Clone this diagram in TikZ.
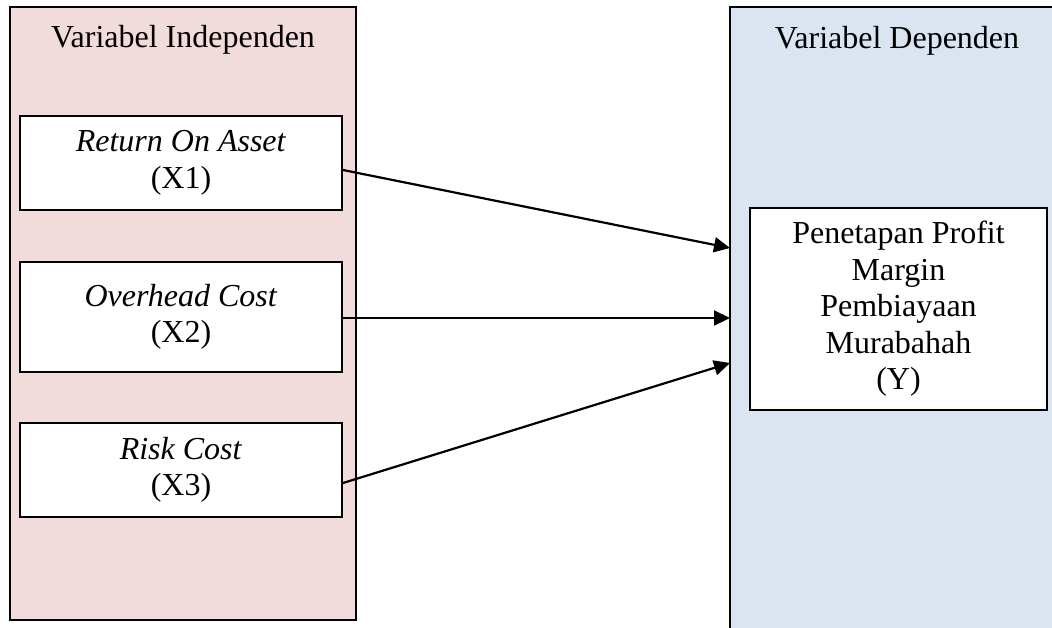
\documentclass[tikz,border=0pt]{standalone}
\usepackage{fontspec}
\setmainfont{Liberation Serif}
\usetikzlibrary{arrows.meta,calc}
\definecolor{pinkfill}{RGB}{242,220,219}
\definecolor{bluefill}{RGB}{219,229,241}
\begin{document}
\begin{tikzpicture}[x=1pt,y=-1pt,
  every node/.style={font=\fontsize{32}{36.5}\selectfont},
  panel/.style={draw=black,line width=2pt,inner sep=0pt,minimum width=#1},
  varbox/.style={draw=black,fill=white,line width=2pt,align=center,inner sep=0pt,minimum width=322pt},
  conn/.style={line width=2.2pt,-{Triangle[length=16pt,width=15pt]}}]
\useasboundingbox (0,0) rectangle (1052,627);
\clip (0,0) rectangle (1052,627);
% panels
\node[panel=346pt,fill=pinkfill,minimum height=613pt] (indep) at (183,313.5) {};
\fill[bluefill] (730,7) rectangle (1070,650);
\draw[line width=2pt] (730,650) -- (730,7) -- (1070,7);
% titles
\node[anchor=base] (tind) at (183,47) {Variabel Independen};
\node[anchor=base] (tdep) at (897,48) {Variabel Dependen};
% variable boxes
\node[varbox,minimum height=94pt] (x1) at (181,163) {\textit{Return On Asset}\\(X1)};
\node[varbox,minimum height=110pt] (x2) at (181,317) {\textit{Overhead Cost}\\(X2)};
\node[varbox,minimum height=94pt] (x3) at (181,470) {\textit{Risk Cost}\\(X3)};
\node[draw=black,fill=white,line width=2pt,align=center,inner sep=0pt,minimum width=297pt,minimum height=202pt] (y) at (898.5,309)
  {Penetapan Profit\\Margin\\Pembiayaan\\Murabahah\\(Y)};
% arrow targets on the dependent panel border
\coordinate (e1) at (730,248);
\coordinate (e2) at (730,318);
\coordinate (e3) at (730,363);
\draw[conn] ($(x1.east)+(0,7)$) -- (e1);
\draw[conn] ($(x2.east)+(0,1)$) -- (e2);
\draw[conn] ($(x3.east)+(0,13)$) -- (e3);
\end{tikzpicture}
\end{document}
